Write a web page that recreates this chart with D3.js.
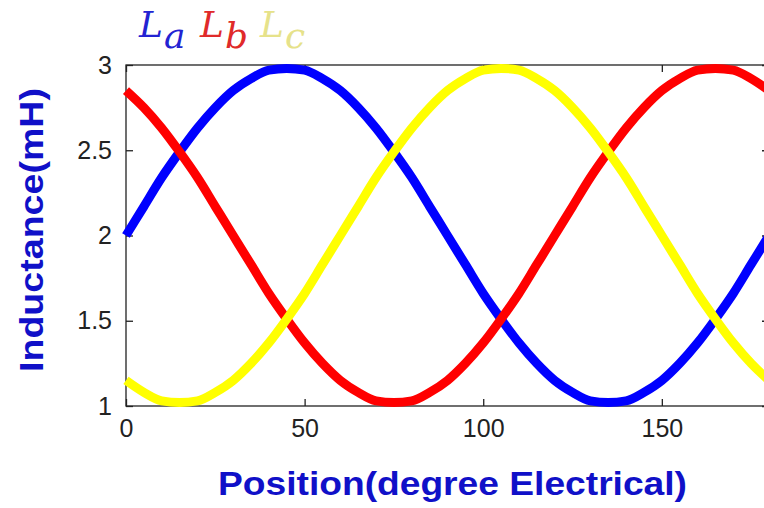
<!DOCTYPE html>
<html>
<head>
<meta charset="utf-8">
<script src="https://cdn.jsdelivr.net/npm/d3@7"></script>
<style>
  body { margin: 0; background: #fff; }
  svg { display: block; }
</style>
</head>
<body>
<div id="chart"></div>
<script>
// position in electrical degrees
var position = [0, 5, 10, 15, 20, 25, 30, 35, 40, 45, 50, 55, 60, 65, 70, 75, 80, 85, 90,
  95, 100, 105, 110, 115, 120, 125, 130, 135, 140, 145, 150, 155, 160, 165, 170, 175, 180];

// inductance (mH)
var La = [2.00, 2.17, 2.34, 2.49, 2.63, 2.75, 2.85, 2.92, 2.97, 2.98, 2.97, 2.92, 2.85, 2.75, 2.63, 2.49, 2.34, 2.17, 2.00,
  1.83, 1.66, 1.51, 1.37, 1.25, 1.15, 1.08, 1.03, 1.02, 1.03, 1.08, 1.15, 1.25, 1.37, 1.51, 1.66, 1.83, 2.00];
var Lb = [2.85, 2.75, 2.63, 2.49, 2.34, 2.17, 2.00, 1.83, 1.66, 1.51, 1.37, 1.25, 1.15, 1.08, 1.03, 1.02, 1.03, 1.08, 1.15,
  1.25, 1.37, 1.51, 1.66, 1.83, 2.00, 2.17, 2.34, 2.49, 2.63, 2.75, 2.85, 2.92, 2.97, 2.98, 2.97, 2.92, 2.85];
var Lc = [1.15, 1.08, 1.03, 1.02, 1.03, 1.08, 1.15, 1.25, 1.37, 1.51, 1.66, 1.83, 2.00, 2.17, 2.34, 2.49, 2.63, 2.75, 2.85,
  2.92, 2.97, 2.98, 2.97, 2.92, 2.85, 2.75, 2.63, 2.49, 2.34, 2.17, 2.00, 1.83, 1.66, 1.51, 1.37, 1.25, 1.15];

var xTicks = [0, 50, 100, 150];
var yTicks = [1, 1.5, 2, 2.5, 3];

var seriesNames = ["L", "L", "L"];
var seriesSubs = ["a", "b", "c"];
var lineColors = ["#0000ff", "#ff0000", "#ffff00"];
var legendColors = ["#2323d2", "#e02a2a", "#e6e28a"];

var width = 764, height = 508;
var margin = {top: 65, left: 126, bottom: 102, right: -5};

var x = d3.scaleLinear().domain([0, 180]).range([margin.left, width - margin.right]);
var y = d3.scaleLinear().domain([1, 3]).range([height - margin.bottom, margin.top]);

var svg = d3.select("#chart").append("svg")
    .attr("width", width)
    .attr("height", height);

var axisColor = "#222";
var tickFont = "'Liberation Sans', Arial, sans-serif";

// box
svg.append("rect")
    .attr("x", x(0)).attr("y", y(3))
    .attr("width", x(180) - x(0)).attr("height", y(1) - y(3))
    .attr("fill", "none").attr("stroke", axisColor).attr("stroke-width", 1.3);

// axes with inward ticks
var xAxis = svg.append("g")
    .attr("transform", "translate(0," + y(1) + ")")
    .call(d3.axisBottom(x).tickValues(xTicks).tickSizeInner(-7).tickSizeOuter(0).tickPadding(13));
var xAxisTop = svg.append("g")
    .attr("transform", "translate(0," + y(3) + ")")
    .call(d3.axisTop(x).tickValues(xTicks).tickSizeInner(-7).tickSizeOuter(0).tickFormat(""));
var yAxis = svg.append("g")
    .attr("transform", "translate(" + x(0) + ",0)")
    .call(d3.axisLeft(y).tickValues(yTicks).tickSizeInner(-7).tickSizeOuter(0).tickPadding(14)
      .tickFormat(d3.format("")));
var yAxisRight = svg.append("g")
    .attr("transform", "translate(" + x(180) + ",0)")
    .call(d3.axisRight(y).tickValues(yTicks).tickSizeInner(-7).tickSizeOuter(0).tickFormat(""));

[xAxis, xAxisTop, yAxis, yAxisRight].forEach(function(g) {
  g.select(".domain").remove();
  g.selectAll("line").attr("stroke", axisColor).attr("stroke-width", 1.3);
  g.selectAll("text")
    .attr("fill", axisColor)
    .attr("font-family", tickFont)
    .attr("font-size", 25);
});
xAxis.selectAll("text").attr("dy", "0.71em");

// curves
var line = d3.line()
    .x(function(d) { return x(d[0]); })
    .y(function(d) { return y(d[1]); })
    .curve(d3.curveMonotoneX);

[La, Lb, Lc].forEach(function(vals, i) {
  svg.append("path")
      .datum(position.map(function(p, j) { return [p, vals[j]]; }))
      .attr("fill", "none")
      .attr("stroke", lineColors[i])
      .attr("stroke-width", 9)
      .attr("stroke-linejoin", "round")
      .attr("d", line);
});

// legend (math italic)
var legendX = [139, 200, 260];
seriesNames.forEach(function(n, i) {
  var t = svg.append("text")
      .attr("x", legendX[i]).attr("y", 37)
      .attr("font-family", "'DejaVu Serif', serif")
      .attr("font-style", "italic")
      .attr("font-size", 36)
      .attr("fill", legendColors[i]);
  t.append("tspan").text(n);
  t.append("tspan").attr("dy", 11).attr("dx", 1).text(seriesSubs[i]);
});

// axis labels
var labelColor = "#1010c8";
svg.append("text")
    .attr("x", 218).attr("y", 495)
    .attr("font-family", tickFont)
    .attr("font-weight", "bold")
    .attr("font-size", 34)
    .attr("fill", labelColor)
    .attr("textLength", 469)
    .attr("lengthAdjust", "spacingAndGlyphs")
    .text("Position(degree Electrical)");

svg.append("text")
    .attr("transform", "translate(43,372) rotate(-90)")
    .attr("font-family", tickFont)
    .attr("font-weight", "bold")
    .attr("font-size", 34)
    .attr("fill", labelColor)
    .attr("textLength", 284)
    .attr("lengthAdjust", "spacingAndGlyphs")
    .text("Inductance(mH)");
</script>
</body>
</html>
